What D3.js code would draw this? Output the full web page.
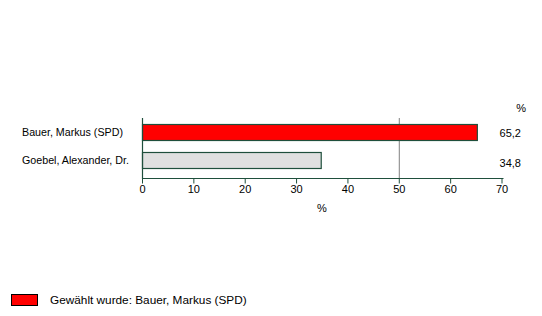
<!DOCTYPE html>
<html>
<head>
<meta charset="utf-8">
<script src="https://cdn.jsdelivr.net/npm/d3@7"></script>
<style>
  body { margin: 0; background: #fff; }
  text { font-family: "Liberation Sans", Arial, sans-serif; font-size: 11px; fill: #000; }
</style>
</head>
<body>
<svg id="chart" width="542" height="316"></svg>
<script>
// candidates and vote shares (%)
const candidates = ["Bauer, Markus (SPD)", "Goebel, Alexander, Dr."];
const shares = [65.2, 34.8];
const barColors = ["#ff0000", "#e0e0e0"];
const xTicks = [0, 10, 20, 30, 40, 50, 60, 70];
const majorityLine = 50;
const legendText = "Gewählt wurde: Bauer, Markus (SPD)";

const svg = d3.select("#chart");
const axisColor = "#1f4f3c";

// + SCALES
const xScale = d3.scaleLinear()
  .domain([0, 70])
  .range([142, 501.5]);

const yScale = d3.scaleBand()
  .domain(candidates)
  .range([118, 174])
  .paddingInner(0.43)
  .paddingOuter(0.215);

// 50% reference line
svg.append("line")
  .attr("x1", xScale(majorityLine) + 0.5)
  .attr("x2", xScale(majorityLine) + 0.5)
  .attr("y1", 118)
  .attr("y2", 178)
  .attr("stroke", "#808080")
  .attr("stroke-width", 1);

// + BARS
svg.selectAll(".bar")
  .data(shares)
  .join("rect")
  .attr("class", "bar")
  .attr("x", xScale(0) + 0.5)
  .attr("y", (d, i) => Math.round(yScale(candidates[i])) + 0.5)
  .attr("width", d => xScale(d) - xScale(0))
  .attr("height", Math.round(yScale.bandwidth()))
  .attr("fill", (d, i) => barColors[i])
  .attr("stroke", axisColor)
  .attr("stroke-width", 1.2);

// + X AXIS
const xAxisGroup = svg.append("g")
  .attr("transform", `translate(0, 178.5)`)
  .call(d3.axisBottom(xScale).tickValues(xTicks).tickSize(5).tickPadding(2).tickFormat(d3.format("d")));

xAxisGroup.select(".domain").attr("stroke", axisColor).attr("stroke-width", 1.2)
  .attr("d", `M${xScale(0)},0H${xScale(70) + 2}`);
xAxisGroup.selectAll(".tick line").attr("stroke", axisColor);
xAxisGroup.selectAll(".tick text")
  .style("font-family", "'Liberation Sans', Arial, sans-serif")
  .style("font-size", "11px")
  .attr("fill", "#000");

// + Y AXIS line
svg.append("line")
  .attr("x1", xScale(0) + 0.5)
  .attr("x2", xScale(0) + 0.5)
  .attr("y1", 118)
  .attr("y2", 179)
  .attr("stroke", axisColor)
  .attr("stroke-width", 1.2);

// category labels
svg.selectAll(".cat")
  .data(candidates)
  .join("text")
  .attr("class", "cat")
  .attr("x", 22)
  .attr("y", d => yScale(d) + yScale.bandwidth() / 2 + 4)
  .style("font-size", "10.7px")
  .text(d => d);

// value labels
svg.selectAll(".val")
  .data(shares)
  .join("text")
  .attr("class", "val")
  .attr("x", 521)
  .attr("text-anchor", "end")
  .attr("y", (d, i) => yScale(candidates[i]) + yScale.bandwidth() / 2 + 5 + i * 2)
  .text(d => d3.format(".1f")(d).replace(".", ","));

svg.append("text")
  .attr("x", 526)
  .attr("y", 112)
  .attr("text-anchor", "end")
  .text("%");

// axis title
svg.append("text")
  .attr("x", 322)
  .attr("y", 212)
  .attr("text-anchor", "middle")
  .text("%");

// + LEGEND
svg.append("rect")
  .attr("x", 11.5)
  .attr("y", 294.5)
  .attr("width", 26)
  .attr("height", 11)
  .attr("fill", barColors[0])
  .attr("stroke", "#000");

svg.append("text")
  .attr("x", 50)
  .attr("y", 304)
  .style("font-size", "11.8px")
  .text(legendText);
</script>
</body>
</html>
